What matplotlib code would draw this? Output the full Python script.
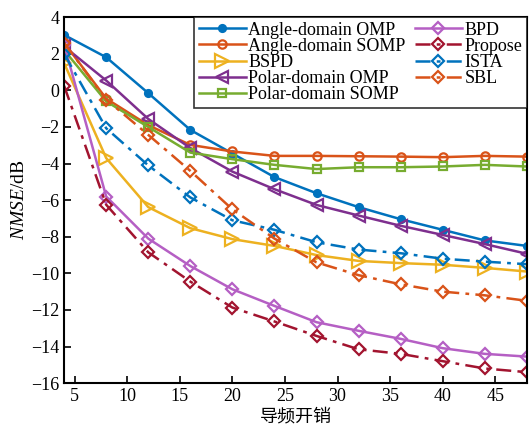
import matplotlib
matplotlib.use("Agg")
import matplotlib.pyplot as plt

# Pilot overhead (x axis)
pilots = [4, 8, 12, 16, 20, 24, 28, 32, 36, 40, 44, 48]

# NMSE in dB for each estimator
angle_omp = [3.03, 1.81, -0.15, -2.16, -3.45, -4.74, -5.62, -6.38, -7.04, -7.62, -8.2, -8.5]
angle_somp = [2.6, -0.45, -1.9, -2.98, -3.34, -3.58, -3.58, -3.6, -3.62, -3.65, -3.58, -3.62]
bspd = [1.49, -3.7, -6.38, -7.53, -8.13, -8.5, -9.0, -9.32, -9.44, -9.53, -9.7, -9.9]
polar_omp = [2.4, 0.54, -1.56, -3.15, -4.44, -5.4, -6.26, -6.84, -7.4, -7.9, -8.4, -8.93]
polar_somp = [2.2, -0.6, -2.0, -3.4, -3.76, -4.07, -4.3, -4.2, -4.2, -4.16, -4.07, -4.16]
bpd = [2.5, -5.8, -8.1, -9.6, -10.87, -11.78, -12.67, -13.14, -13.58, -14.09, -14.4, -14.55]
propose = [0.25, -6.25, -8.85, -10.45, -11.87, -12.63, -13.42, -14.15, -14.4, -14.8, -15.2, -15.4]
ista = [2.0, -2.07, -4.1, -5.85, -7.1, -7.62, -8.3, -8.7, -8.9, -9.2, -9.36, -9.5]
sbl = [2.6, -0.5, -2.43, -4.4, -6.5, -8.1, -9.4, -10.1, -10.6, -11.0, -11.2, -11.5]

x_ticks = [5, 10, 15, 20, 25, 30, 35, 40, 45]
y_ticks = [4, 2, 0, -2, -4, -6, -8, -10, -12, -14, -16]

plt.rcParams['font.family'] = ['Liberation Serif', 'Noto Sans CJK SC', 'DejaVu Sans']
plt.rcParams['axes.unicode_minus'] = True
plt.rcParams['mathtext.fontset'] = 'custom'
plt.rcParams['mathtext.rm'] = 'Liberation Serif'
plt.rcParams['mathtext.it'] = 'Liberation Serif:italic'

fig = plt.figure(figsize=(5.3, 4.3), dpi=100)
ax = fig.add_axes([0.121, 0.109, 0.873, 0.851])

lw = 1.8
dashdot = (0, (6, 2.5, 1.5, 2.5))
series = [
    (angle_omp, 'Angle-domain OMP', '#0072BD', '-', 'o', 5, True),
    (angle_somp, 'Angle-domain SOMP', '#D95319', '-', 'o', 6, False),
    (bspd, 'BSPD', '#EDB120', '-', '>', 10, False),
    (polar_omp, 'Polar-domain OMP', '#7E2F8E', '-', '<', 9, False),
    (polar_somp, 'Polar-domain SOMP', '#77AC30', '-', 's', 6, False),
    (bpd, 'BPD', '#B55FC4', '-', 'D', 6, False),
    (propose, 'Propose', '#A2142F', dashdot, 'D', 6, False),
    (ista, 'ISTA', '#0072BD', dashdot, 'D', 6, False),
    (sbl, 'SBL', '#D95319', dashdot, 'D', 6, False),
]

for vals, label, color, ls, mk, ms, filled in series:
    ax.plot(pilots, vals, linestyle=ls, color=color, linewidth=lw,
            marker=mk, markersize=ms, markeredgewidth=1.6,
            markerfacecolor=color if filled else 'none',
            markeredgecolor=color, label=label)

ax.set_xlim(4, 48)
ax.set_ylim(-16, 4)
ax.set_xticks(x_ticks)
ax.set_yticks(y_ticks)
ax.tick_params(direction='in', length=5, width=1.2, labelsize=13,
               top=False, right=False)
for sp in ax.spines.values():
    sp.set_linewidth(1.5)

ax.set_xlabel('导频开销', fontsize=13, family=['Noto Sans CJK SC'], labelpad=2)
ax.set_ylabel(r'$\mathit{NMSE}\mathrm{/dB}$', fontsize=14, labelpad=2)

leg = ax.legend(loc='upper right', ncol=2, fontsize=13, frameon=True,
                fancybox=False, edgecolor='black', handlelength=2.6,
                handletextpad=0.15, columnspacing=0.5, labelspacing=-0.05,
                borderpad=0.25, borderaxespad=0.0)
leg.get_frame().set_linewidth(1.2)

fig.savefig('out.png', dpi=100)
